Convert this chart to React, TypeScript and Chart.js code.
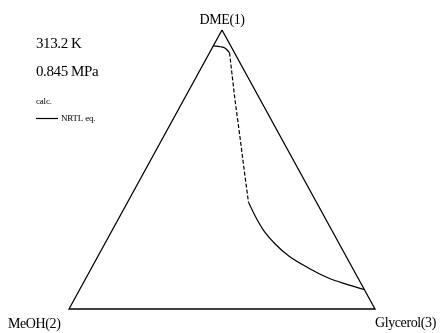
import React, { useEffect, useRef } from "react";
import { Chart, registerables } from "chart.js";

Chart.register(...registerables);

// Component labels (vertices)
const componentLabels = ["DME(1)", "MeOH(2)", "Glycerol(3)"];
const conditionLabels = ["313.2 K", "0.845 MPa"];
const legendTitle = "calc.";
const seriesName = "NRTL eq.";

// Triangle vertices as compositions (w1 DME, w3 Glycerol): DME -> MeOH -> Glycerol -> DME
const frameW1 = [1, 0, 0, 1];
const frameW3 = [0, 0, 1, 0];

// DME-rich branch (solid)
const topW1 = [0.943, 0.94, 0.935, 0.919];
const topW3 = [0.0, 0.024, 0.043, 0.065];

// Dashed section
const dashW1 = [0.919, 0.749, 0.606, 0.481, 0.383];
const dashW3 = [0.065, 0.168, 0.257, 0.334, 0.395];

// Glycerol-rich branch (solid)
const lowW1 = [0.383, 0.327, 0.280, 0.234, 0.189, 0.148, 0.112, 0.089, 0.069];
const lowW3 = [0.395, 0.448, 0.497, 0.556, 0.625, 0.707, 0.790, 0.861, 0.931];

const toXY = (w1: number[], w3: number[]) =>
  w1.map((a, i) => ({ x: w3[i] + 0.5 * a, y: a }));

const FONT = "'Liberation Serif', 'Times New Roman', serif";

const textPlugin = {
  id: "ternaryText",
  afterDraw(chart: any) {
    const ctx = chart.ctx;
    const xs = chart.scales.x;
    const ys = chart.scales.y;
    ctx.save();
    ctx.fillStyle = "#000";
    ctx.textBaseline = "alphabetic";
    (ctx as any).letterSpacing = "-0.4px";
    ctx.font = `14px ${FONT}`;
    // vertex labels
    ctx.textAlign = "center";
    ctx.fillText(componentLabels[0], xs.getPixelForValue(0.5), ys.getPixelForValue(1) - 6);
    ctx.textAlign = "left";
    ctx.fillText(componentLabels[1], 8, 328);
    ctx.fillText(componentLabels[2], 375, 327);
    // conditions
    ctx.font = `15px ${FONT}`;
    ctx.fillText(conditionLabels[0], 36, 48);
    ctx.fillText(conditionLabels[1], 36, 76);
    // legend
    (ctx as any).letterSpacing = "-0.2px";
    ctx.font = `9px ${FONT}`;
    ctx.fillText(legendTitle, 36, 104);
    ctx.beginPath();
    ctx.strokeStyle = "#000";
    ctx.lineWidth = 1.2;
    ctx.moveTo(36, 118.5);
    ctx.lineTo(58, 118.5);
    ctx.stroke();
    ctx.fillText(seriesName, 61, 121);
    ctx.restore();
  },
};

export default function App() {
  const ref = useRef<HTMLCanvasElement | null>(null);
  useEffect(() => {
    document.body.style.margin = "0";
    const canvas = ref.current!;
    const common = {
      showLine: true,
      pointRadius: 0,
      borderColor: "#000",
      fill: false,
      clip: false as any,
    };
    const chart = new Chart(canvas, {
      type: "scatter",
      data: {
        datasets: [
          { ...common, label: "frame", data: toXY(frameW1, frameW3), borderWidth: 1.3, tension: 0 },
          { ...common, label: seriesName, data: toXY(topW1, topW3), borderWidth: 1.2, cubicInterpolationMode: "monotone" as const },
          { ...common, label: "dash", data: toXY(dashW1, dashW3), borderWidth: 1.2, borderDash: [4, 2], tension: 0 },
          { ...common, label: "low", data: toXY(lowW1, lowW3), borderWidth: 1.2, cubicInterpolationMode: "monotone" as const },
        ],
      },
      options: {
        responsive: false,
        animation: false,
        layout: { padding: { left: 69, right: 70, top: 30, bottom: 24 } },
        scales: {
          x: { type: "linear", min: 0, max: 1, display: false },
          y: { type: "linear", min: 0, max: 1, display: false },
        },
        plugins: { legend: { display: false }, tooltip: { enabled: false }, title: { display: false } },
      },
      plugins: [textPlugin],
    });
    return () => chart.destroy();
  }, []);
  return (
    <div style={{ position: "absolute", left: 0, top: 0, width: 445, height: 333, background: "#fff" }}>
      <canvas ref={ref} width={445} height={333} />
    </div>
  );
}
